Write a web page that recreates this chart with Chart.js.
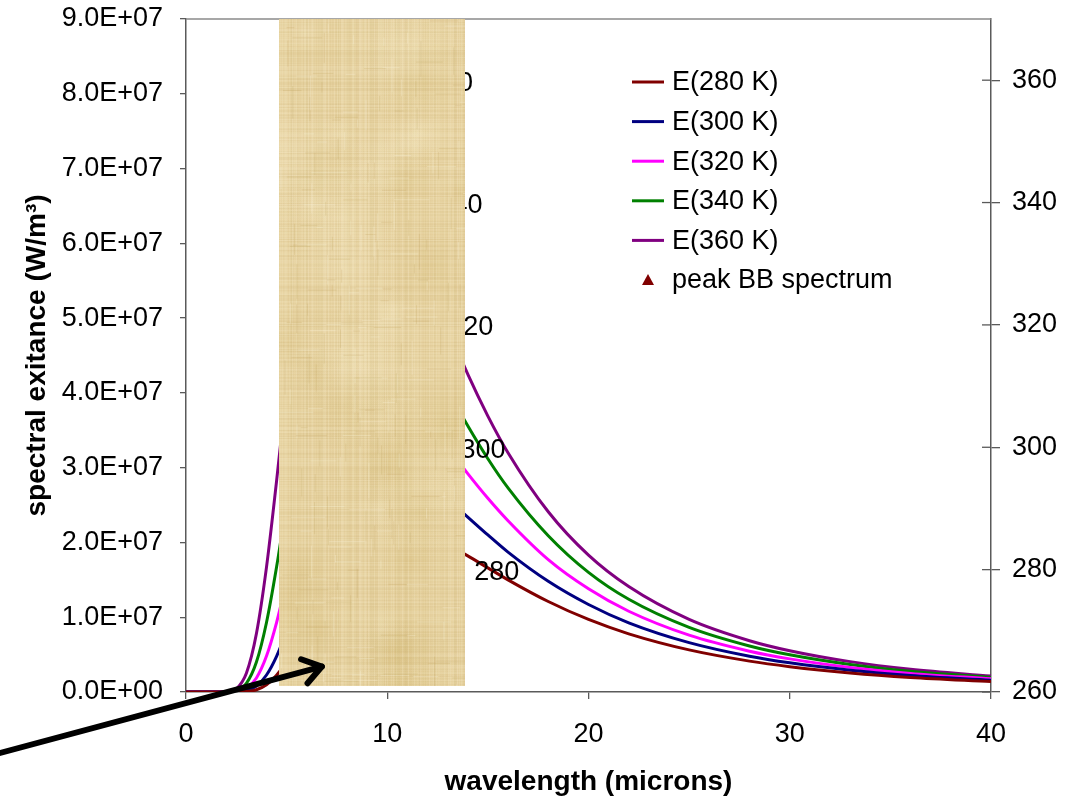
<!DOCTYPE html>
<html>
<head>
<meta charset="utf-8">
<title>Blackbody spectral exitance</title>
<script src="https://cdn.jsdelivr.net/npm/chart.js@4.4.1/dist/chart.umd.min.js"></script>
<style>
  html, body { margin: 0; padding: 0; background: #ffffff; }
  #wrap { width: 1071px; height: 799px; position: relative; }
</style>
</head>
<body>
<div id="wrap"><canvas id="c" width="1071" height="799"></canvas></div>
<script>
// Wavelength samples (microns)
const wavelengths = [0, 1, 2, 2.5, 3, 3.5, 4, 4.5, 5, 6, 7, 8, 9, 10, 11, 12, 13, 14, 15, 16, 18, 20, 22, 25, 28, 30, 33, 36, 40];

// Spectral exitance (W/m^3) at each wavelength, one list per temperature
const e280 = [0, 0, 8.1e1, 4.54e3, 5.60e4, 3.00e5, 9.63e5, 2.23e6, 4.12e6, 9.18e6, 1.44e7, 1.86e7, 2.11e7, 2.21e7, 2.19e7, 2.11e7, 1.97e7, 1.82e7, 1.66e7, 1.50e7, 1.21e7, 9.70e6, 7.78e6, 5.63e6, 4.13e6, 3.39e6, 2.55e6, 1.95e6, 1.40e6];
const e300 = [0, 0, 4.5e2, 1.79e4, 1.76e5, 7.97e5, 2.27e6, 4.77e6, 8.18e6, 1.63e7, 2.36e7, 2.85e7, 3.09e7, 3.12e7, 3.01e7, 2.82e7, 2.58e7, 2.34e7, 2.10e7, 1.87e7, 1.48e7, 1.17e7, 9.25e6, 6.60e6, 4.78e6, 3.90e6, 2.92e6, 2.22e6, 1.58e6];
const e320 = [0, 0, 2.0e3, 5.92e4, 4.77e5, 1.88e6, 4.80e6, 9.28e6, 1.49e7, 2.68e7, 3.62e7, 4.15e7, 4.32e7, 4.22e7, 3.97e7, 3.63e7, 3.27e7, 2.92e7, 2.59e7, 2.29e7, 1.77e7, 1.38e7, 1.08e7, 7.60e6, 5.46e6, 4.43e6, 3.29e6, 2.49e6, 1.76e6];
const e340 = [0, 0, 7.6e3, 1.71e5, 1.15e6, 4.00e6, 9.29e6, 1.67e7, 2.53e7, 4.17e7, 5.29e7, 5.79e7, 5.80e7, 5.52e7, 5.07e7, 4.56e7, 4.04e7, 3.56e7, 3.12e7, 2.73e7, 2.09e7, 1.60e7, 1.24e7, 8.64e6, 6.15e6, 4.97e6, 3.67e6, 2.76e6, 1.94e6];
const e360 = [0, 0, 2.45e4, 4.37e5, 2.52e6, 7.83e6, 1.67e7, 2.82e7, 4.05e7, 6.17e7, 7.40e7, 7.78e7, 7.56e7, 7.00e7, 6.31e7, 5.58e7, 4.88e7, 4.25e7, 3.69e7, 3.20e7, 2.41e7, 1.83e7, 1.41e7, 9.71e6, 6.86e6, 5.52e6, 4.06e6, 3.04e6, 2.13e6];

// Series names and colours
const seriesLabels = ['E(280 K)', 'E(300 K)', 'E(320 K)', 'E(340 K)', 'E(360 K)'];
const seriesColors = ['#800000', '#000080', '#ff00ff', '#008000', '#800080'];

// Peak of each blackbody spectrum: wavelength (microns) vs temperature (K)
const peakWavelengths = [10.35, 9.66, 9.06, 8.52, 8.05];
const peakTemps = [280, 300, 320, 340, 360];

// Axis ranges and tick steps
const xRange = [0, 40], xStep = 10;
const yRange = [0, 9e7], yStep = 1e7;
const y2Range = [260, 370], y2Step = 20, y2LastTick = 360;

const FONT = "'Liberation Sans', Arial, Helvetica, sans-serif";
const AXIS_GREY = '#5a5a5a';

function sciLabel(v) {
  const [m, e] = Number(v).toExponential(1).split('e');
  const sign = e[0] === '-' ? '-' : '+';
  return m + 'E' + sign + e.replace(/^[+-]/, '').padStart(2, '0');
}

const curveSets = [e280, e300, e320, e340, e360].map((vals, i) => ({
  label: seriesLabels[i],
  data: wavelengths.map((w, j) => ({ x: w, y: vals[j] })),
  borderColor: seriesColors[i],
  backgroundColor: seriesColors[i],
  borderWidth: 3,
  pointRadius: 0,
  fill: false,
  cubicInterpolationMode: 'monotone',
  yAxisID: 'y'
}));

const peakSet = {
  label: 'peak BB spectrum',
  data: peakWavelengths.map((w, i) => ({ x: w, y: peakTemps[i] })),
  showLine: false,
  pointStyle: 'triangle',
  pointRadius: 6,
  borderColor: '#800000',
  backgroundColor: '#800000',
  yAxisID: 'y2'
};

// Deterministic fibre texture for the paper panel
function hash(n) {
  const s = Math.sin(n * 12.9898 + 78.233) * 43758.5453;
  return s - Math.floor(s);
}
function makePaper(w, h) {
  const c = document.createElement('canvas');
  c.width = w; c.height = h;
  const g = c.getContext('2d');
  g.fillStyle = '#e7d3a1';
  g.fillRect(0, 0, w, h);
  // broad soft tone variations
  for (let k = 0; k < 40; k++) {
    const x = hash(k * 4.3 + 7) * w, y = hash(k * 9.1 + 2) * h;
    const r = 20 + hash(k * 2.2 + 5) * 60;
    const grd = g.createRadialGradient(x, y, 0, x, y, r);
    const dark = hash(k + 0.5) > 0.5;
    grd.addColorStop(0, dark ? 'rgba(208,182,110,0.26)' : 'rgba(246,234,198,0.35)');
    grd.addColorStop(1, 'rgba(231,211,161,0)');
    g.fillStyle = grd;
    g.fillRect(x - r, y - r, 2 * r, 2 * r);
  }
  // vertical fibres
  for (let i = 0; i < w; i++) {
    const r = hash(i + 3.1);
    g.fillStyle = r > 0.5 ? 'rgba(249,238,208,' + ((r - 0.5) * 0.45) + ')' : 'rgba(188,158,92,' + ((0.5 - r) * 0.24) + ')';
    g.fillRect(i, 0, 1, h);
  }
  // horizontal fibres
  for (let j = 0; j < h; j++) {
    const r = hash(j * 1.7 + 91.3);
    g.fillStyle = r > 0.5 ? 'rgba(249,238,208,' + ((r - 0.5) * 0.35) + ')' : 'rgba(188,158,92,' + ((0.5 - r) * 0.21) + ')';
    g.fillRect(0, j, w, 1);
  }
  // short fibre segments
  for (let k = 0; k < 260; k++) {
    const x = hash(k * 3.7 + 11) * w, y = hash(k * 5.3 + 17) * h;
    const vertical = hash(k * 1.9 + 4) > 0.5;
    const L = 6 + hash(k * 8.1 + 3) * 30;
    g.fillStyle = hash(k + 0.25) > 0.5 ? 'rgba(198,168,102,0.24)' : 'rgba(250,241,214,0.30)';
    if (vertical) g.fillRect(x, y, 1, L); else g.fillRect(x, y, L, 1);
  }
  const out = document.createElement('canvas');
  out.width = w; out.height = h;
  const o = out.getContext('2d');
  o.filter = 'blur(0.7px)';
  o.drawImage(c, 0, 0);
  return out;
}

const overlayPlugin = {
  id: 'overlays',
  beforeDatasetsDraw(chart) {
    const { ctx, chartArea: a } = chart;
    ctx.save();
    // plot-area border on the top side
    ctx.strokeStyle = '#8a8a8a';
    ctx.lineWidth = 1.5;
    ctx.beginPath();
    ctx.moveTo(a.left, a.top);
    ctx.lineTo(a.right, a.top);
    ctx.stroke();
    // inner halves of the secondary-axis tick marks
    const y2 = chart.scales.y2;
    ctx.strokeStyle = AXIS_GREY;
    ctx.lineWidth = 1.3;
    y2.ticks.forEach(t => {
      const py = y2.getPixelForValue(t.value);
      ctx.beginPath();
      ctx.moveTo(a.right - 9, py);
      ctx.lineTo(a.right, py);
      ctx.stroke();
    });
    ctx.restore();
  },
  afterDatasetsDraw(chart) {
    const { ctx, chartArea: a, scales } = chart;
    ctx.save();
    // temperature labels beside the peak markers
    ctx.font = '27px ' + FONT;
    ctx.fillStyle = '#000';
    ctx.textBaseline = 'middle';
    ctx.textAlign = 'left';
    peakWavelengths.forEach((w, i) => {
      const px = scales.x.getPixelForValue(w);
      const py = scales.y2.getPixelForValue(peakTemps[i]);
      ctx.fillText(String(peakTemps[i]), px + 80, py + 3);
    });

    // legend inside the plot area
    const lx = a.left + 446, ly = a.top + 63;
    chart.data.datasets.forEach((ds, i) => {
      const y = ly + i * 39.6;
      if (ds.showLine === false) {
        ctx.fillStyle = ds.backgroundColor;
        ctx.beginPath();
        ctx.moveTo(lx + 16, y - 6);
        ctx.lineTo(lx + 22, y + 5);
        ctx.lineTo(lx + 10, y + 5);
        ctx.closePath();
        ctx.fill();
      } else {
        ctx.strokeStyle = ds.borderColor;
        ctx.lineWidth = 3;
        ctx.beginPath();
        ctx.moveTo(lx, y);
        ctx.lineTo(lx + 32, y);
        ctx.stroke();
      }
      ctx.fillStyle = '#000';
      ctx.fillText(ds.label, lx + 40, y + 1);
    });

    // paper panel laid over part of the plot
    const x0 = scales.x.getPixelForValue(4.63), x1 = scales.x.getPixelForValue(13.88);
    const yTop = scales.y.getPixelForValue(9e7), yBot = scales.y.getPixelForValue(8.0e5);
    const pw = Math.round(x1 - x0), ph = Math.round(yBot - yTop);
    ctx.drawImage(makePaper(pw, ph), Math.round(x0), Math.round(yTop));

    // pointer arrow
    const tx = scales.x.getPixelForValue(6.75), ty = scales.y.getPixelForValue(3.4e6);
    const sx = scales.x.getPixelForValue(-9.3), sy = scales.y.getPixelForValue(-8.2e6);
    ctx.strokeStyle = '#000';
    ctx.lineWidth = 6;
    ctx.lineCap = 'round';
    ctx.lineJoin = 'round';
    ctx.beginPath();
    ctx.moveTo(sx, sy);
    ctx.lineTo(tx, ty);
    ctx.stroke();
    const ang = Math.atan2(sy - ty, sx - tx);
    const len = 22, spread = 0.6;
    ctx.beginPath();
    ctx.moveTo(tx + len * Math.cos(ang - spread), ty + len * Math.sin(ang - spread));
    ctx.lineTo(tx, ty);
    ctx.lineTo(tx + len * Math.cos(ang + spread), ty + len * Math.sin(ang + spread));
    ctx.stroke();
    ctx.restore();
  }
};

function pinVertical(width) {
  return s => { s.width = width; s.paddingTop = 0; s.paddingBottom = 0; };
}

new Chart(document.getElementById('c'), {
  type: 'line',
  data: { datasets: [...curveSets, peakSet] },
  options: {
    responsive: false,
    animation: false,
    layout: { padding: { top: 19, left: 0, right: 0, bottom: 0 } },
    plugins: { legend: { display: false }, tooltip: { enabled: false } },
    scales: {
      x: {
        type: 'linear',
        min: xRange[0], max: xRange[1],
        afterFit(s) { s.height = 107; s.paddingLeft = 0; s.paddingRight = 0; },
        ticks: { stepSize: xStep, color: '#000', font: { family: FONT, size: 27 }, padding: 19, maxRotation: 0 },
        grid: { drawOnChartArea: false, drawTicks: true, tickLength: 7, color: AXIS_GREY, lineWidth: 1.3 },
        border: { display: true, color: AXIS_GREY, width: 1.5 },
        title: { display: true, text: 'wavelength (microns)', color: '#000', font: { family: FONT, size: 28, weight: 'bold' }, padding: { top: 0, bottom: 0 } }
      },
      y: {
        position: 'left',
        min: yRange[0], max: yRange[1],
        afterFit: pinVertical(186),
        ticks: { stepSize: yStep, color: '#000', font: { family: FONT, size: 27 }, padding: 17, callback: v => sciLabel(v) },
        grid: { drawOnChartArea: false, drawTicks: true, tickLength: 6, color: AXIS_GREY, lineWidth: 1.3 },
        border: { display: true, color: AXIS_GREY, width: 1.5 },
        title: { display: true, text: 'spectral exitance (W/m³)', color: '#000', font: { family: FONT, size: 28, weight: 'bold' }, padding: { top: 20, bottom: 0 } }
      },
      y2: {
        position: 'right',
        min: y2Range[0], max: y2Range[1],
        afterFit: pinVertical(80),
        afterBuildTicks(s) { s.ticks = s.ticks.filter(t => t.value <= y2LastTick); },
        ticks: { stepSize: y2Step, color: '#000', font: { family: FONT, size: 27 }, padding: 12 },
        grid: { drawOnChartArea: false, drawTicks: true, tickLength: 9, color: AXIS_GREY, lineWidth: 1.3 },
        border: { display: true, color: AXIS_GREY, width: 1.5 }
      }
    }
  },
  plugins: [overlayPlugin]
});
</script>
</body>
</html>
